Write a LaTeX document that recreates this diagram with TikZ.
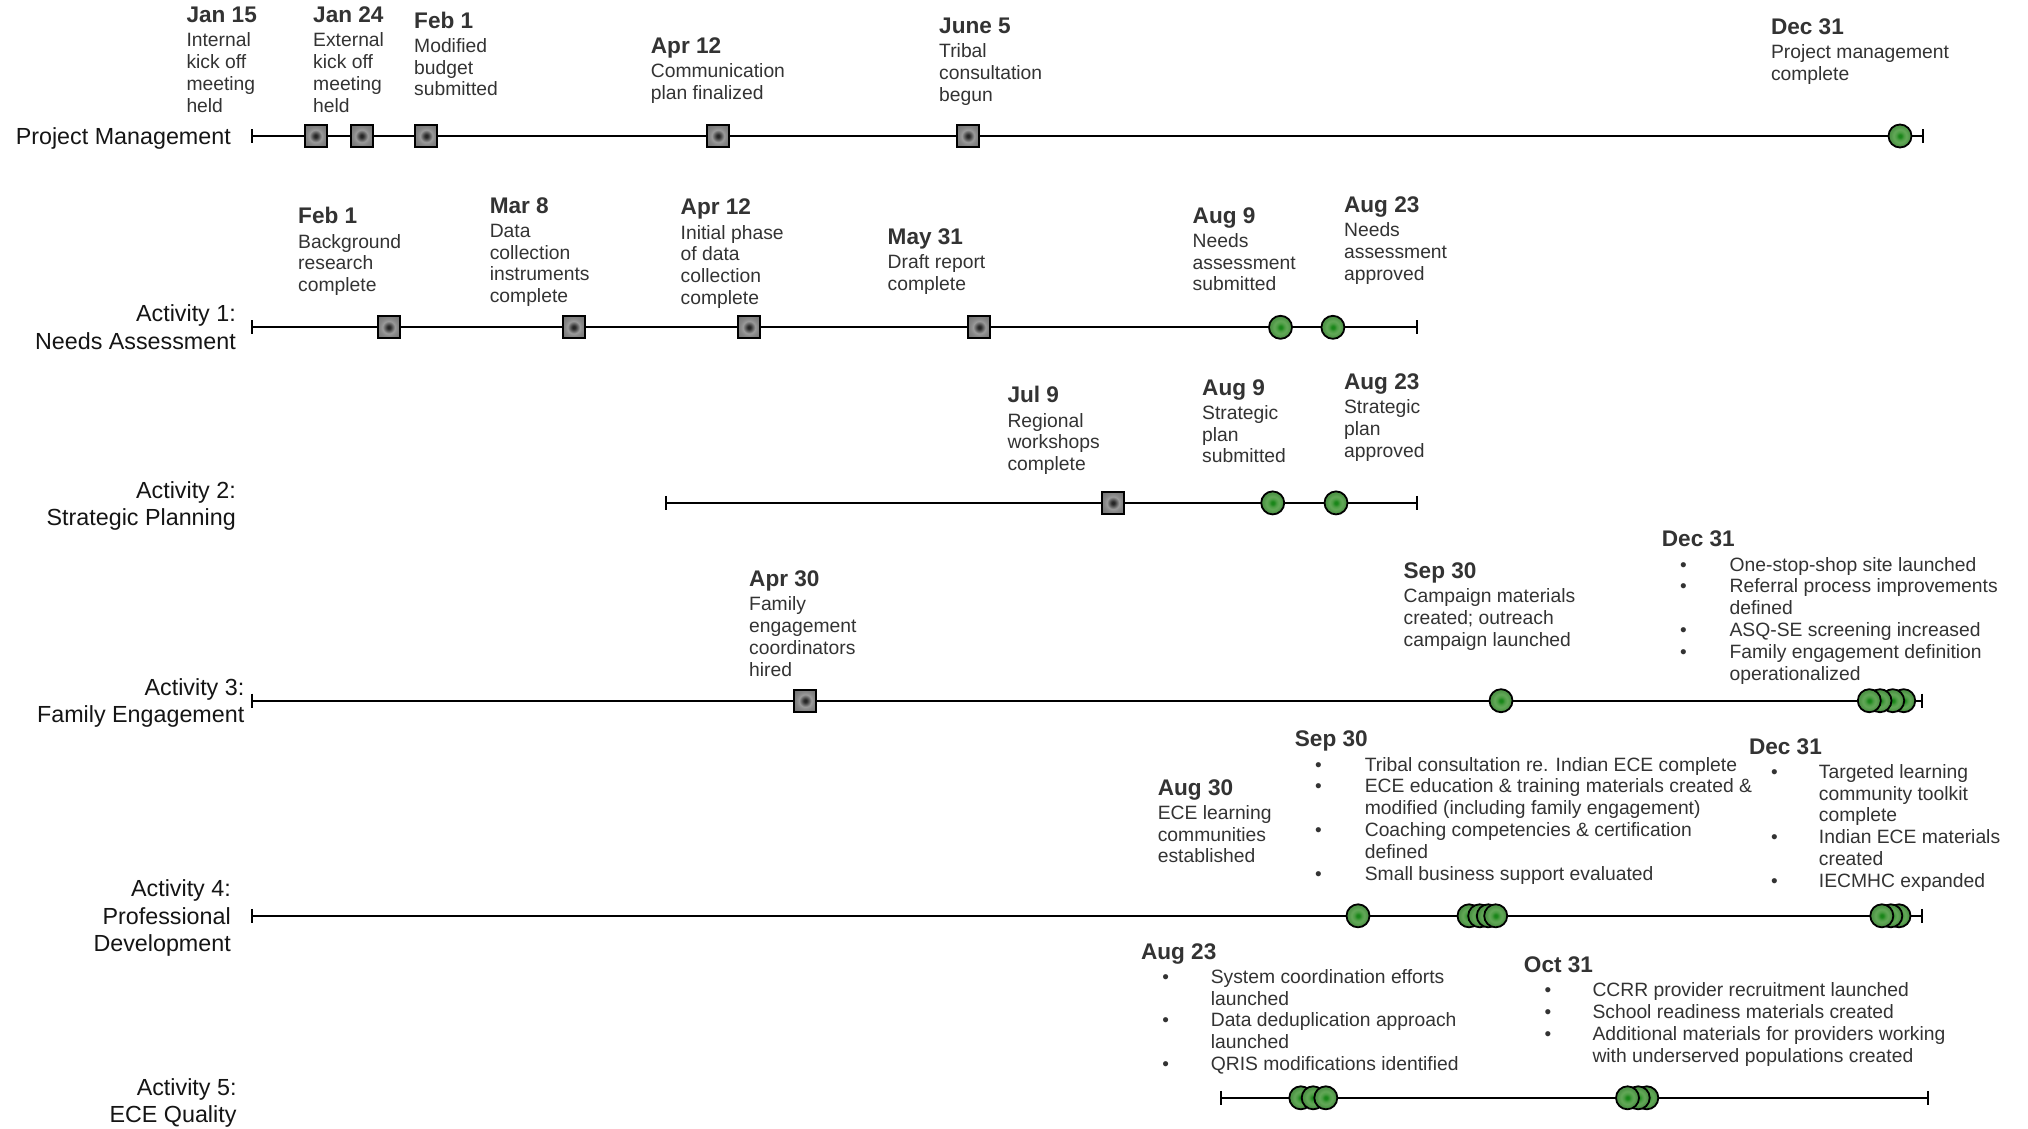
\documentclass[tikz,border=0pt]{standalone}
\usepackage{fontspec}
\setmainfont{Liberation Sans}
\definecolor{txt}{HTML}{333333}
\definecolor{lbl}{HTML}{151515}
\definecolor{gzero}{HTML}{1A861A}
\definecolor{gone}{HTML}{4A9C42}
\definecolor{gtwo}{HTML}{63A858}
\definecolor{gthree}{HTML}{4E9446}
\definecolor{szero}{HTML}{262626}
\definecolor{sone}{HTML}{5A5A5A}
\definecolor{stwo}{HTML}{9A9A9A}
\definecolor{sthree}{HTML}{858585}
\definecolor{sfour}{HTML}{6E6E6E}
\pgfdeclareradialshading{greenball}{\pgfpoint{0bp}{0bp}}{color(0bp)=(gzero); color(3bp)=(gzero); color(8bp)=(gone); color(14bp)=(gtwo); color(21bp)=(gthree); color(25bp)=(gthree); color(50bp)=(gthree)}
\pgfdeclareradialshading{graysq}{\pgfpoint{0bp}{0bp}}{color(0bp)=(szero); color(3bp)=(szero); color(8bp)=(sone); color(14bp)=(stwo); color(21bp)=(sthree); color(36bp)=(sfour); color(50bp)=(sfour)}
\tikzset{
  datetxt/.style={anchor=base west, inner sep=0pt, text=txt, font=\fontsize{22.6pt}{26pt}\selectfont\bfseries},
  desctxt/.style={anchor=base west, inner sep=0pt, text=txt, font=\fontsize{19.3pt}{21.8pt}\selectfont},
  bultxt/.style={anchor=base, inner sep=0pt, text=txt, font=\fontsize{19pt}{21pt}\selectfont},
  rowlbl/.style={anchor=base east, inner sep=0pt, text=lbl, font=\fontsize{23.3pt}{27pt}\selectfont},
  tline/.style={line width=2pt, black},
  tickmark/.style={line width=2.4pt, black},
  sqmark/.style={rectangle, minimum size=22pt, inner sep=0pt, draw=black, line width=1.8pt, shading=graysq},
  gmark/.style={circle, minimum size=23pt, inner sep=0pt, draw=black, line width=1.8pt, shading=greenball},
}
\newcommand\msblock[5]{%
  \node[datetxt] (#1) at (#2,#3) {#4};
  \foreach \ln [count=\i] in {#5} {
    \node[desctxt] (#1-\i) at ({#2},{#3+24.3+(\i-1)*21.8}) {\ln};
  }
}
\newcommand\msbullets[7]{%
  \node[datetxt] (#1) at (#2,#3) {#4};
  \foreach \f/\ln [count=\i] in {#7} {
    \node[desctxt] (#1-\i) at ({#6},{#3+24.3+(\i-1)*21.8}) {\ln};
    \ifnum\f=1 \node[bultxt] (#1-b\i) at ({#5},{#3+24.3+(\i-1)*21.8}) {\textbullet};\fi
  }
}
\newcommand\timeline[4]{% name, x start, x end, y
  \coordinate (#1S) at (#2,#4);
  \coordinate (#1E) at (#3,#4);
  \draw[tline] (#1S) -- (#1E);
  \draw[tickmark] ([yshift=7pt]#1S) -- ([yshift=-7pt]#1S);
  \draw[tickmark] ([yshift=7pt]#1E) -- ([yshift=-7pt]#1E);
}
\begin{document}
\begin{tikzpicture}[x=1pt,y=-1pt]
\useasboundingbox (0,0) rectangle (2028,1128);
\fill[white] (0,0) rectangle (2028,1128);

% ---------- row labels ----------
\node[rowlbl] (lpm) at (231,144) {Project Management};
\node[rowlbl] (la1) at (236,321.2) {Activity 1:};
\node[rowlbl] (la1b) at (236,349) {Needs Assessment};
\node[rowlbl] (la2) at (236,498.2) {Activity 2:};
\node[rowlbl] (la2b) at (236,525.7) {Strategic Planning};
\node[rowlbl] (la3) at (244.5,695.3) {Activity 3:};
\node[rowlbl] (la3b) at (244.5,722.3) {Family Engagement};
\node[rowlbl] (la4) at (231,896.7) {Activity 4:};
\node[rowlbl] (la4b) at (231,924.4) {Professional};
\node[rowlbl] (la4c) at (231,951.4) {Development};
\node[rowlbl] (la5) at (236.7,1095.3) {Activity 5:};
\node[rowlbl] (la5b) at (236.7,1122.3) {ECE Quality};

% ---------- timelines ----------
\timeline{pm}{252}{1923}{136}
\timeline{na}{252}{1417}{327.3}
\timeline{sp}{666.2}{1417}{502.9}
\timeline{fe}{252}{1922}{700.7}
\timeline{pd}{252}{1922}{915.8}
\timeline{eq}{1221}{1928}{1097.8}

% ---------- markers ----------
\node[sqmark] (pm1) at (315.6,136) {};
\node[sqmark] (pm2) at (361.6,136) {};
\node[sqmark] (pm3) at (426.3,136) {};
\node[sqmark] (pm4) at (718,136) {};
\node[sqmark] (pm5) at (968,136) {};
\node[gmark] (pm6) at (1900,136) {};

\node[sqmark] (na1) at (388.7,327.3) {};
\node[sqmark] (na2) at (573.7,327.3) {};
\node[sqmark] (na3) at (749,327.3) {};
\node[sqmark] (na4) at (979.3,327.3) {};
\node[gmark] (na5) at (1280.5,327.3) {};
\node[gmark] (na6) at (1332.9,327.3) {};

\node[sqmark] (sp1) at (1113,502.9) {};
\node[gmark] (sp2) at (1272.7,502.9) {};
\node[gmark] (sp3) at (1336,502.9) {};

\node[sqmark] (fe1) at (805.3,700.7) {};
\node[gmark] (fe2) at (1501,700.7) {};
\node[gmark] (fe3d) at (1903.7,700.7) {};
\node[gmark] (fe3c) at (1892.7,700.7) {};
\node[gmark] (fe3b) at (1880,700.7) {};
\node[gmark] (fe3a) at (1869.3,700.7) {};

\node[gmark] (pd1) at (1358,915.8) {};
\node[gmark] (pd2a) at (1469,915.8) {};
\node[gmark] (pd2b) at (1479.7,915.8) {};
\node[gmark] (pd2c) at (1488.3,915.8) {};
\node[gmark] (pd2d) at (1495.7,915.8) {};
\node[gmark] (pd3c) at (1899,915.8) {};
\node[gmark] (pd3b) at (1890.8,915.8) {};
\node[gmark] (pd3a) at (1881.8,915.8) {};

\node[gmark] (eq1a) at (1300.8,1097.8) {};
\node[gmark] (eq1b) at (1313.2,1097.8) {};
\node[gmark] (eq1c) at (1325.8,1097.8) {};
\node[gmark] (eq2c) at (1646.8,1097.8) {};
\node[gmark] (eq2b) at (1638.2,1097.8) {};
\node[gmark] (eq2a) at (1627.5,1097.8) {};

% ---------- Project management labels ----------
\msblock{tpm1}{186.3}{22.3}{Jan 15}{Internal,kick off,meeting,held}
\msblock{tpm2}{313}{22.3}{Jan 24}{External,kick off,meeting,held}
\msblock{tpm3}{414}{28}{Feb 1}{Modified,budget,submitted}
\msblock{tpm4}{650.7}{53.2}{Apr 12}{Communication,plan finalized}
\msblock{tpm5}{939}{33.1}{June 5}{Tribal,consultation,begun}
\msblock{tpm6}{1770.8}{34.2}{Dec 31}{Project management,complete}

% ---------- Activity 1 labels ----------
\msblock{tna1}{298}{223.7}{Feb 1}{Background,research,complete}
\msblock{tna2}{489.6}{213}{Mar 8}{Data,collection,instruments,complete}
\msblock{tna3}{680.5}{214.7}{Apr 12}{Initial phase,of data,collection,complete}
\msblock{tna4}{887.5}{244.6}{May 31}{Draft report,complete}
\msblock{tna5}{1192.5}{223}{Aug 9}{Needs,assessment,submitted}
\msblock{tna6}{1343.9}{212.2}{Aug 23}{Needs,assessment,approved}

% ---------- Activity 2 labels ----------
\msblock{tsp1}{1007.3}{402.7}{Jul 9}{Regional,workshops,complete}
\msblock{tsp2}{1202}{395}{Aug 9}{Strategic,plan,submitted}
\msblock{tsp3}{1343.9}{389.2}{Aug 23}{Strategic,plan,approved}

% ---------- Activity 3 labels ----------
\msblock{tfe1}{749}{586.3}{Apr 30}{Family,engagement,coordinators,hired}
\msblock{tfe2}{1403.4}{578.6}{Sep 30}{Campaign materials,created; outreach,campaign launched}
\msbullets{tfe3}{1661.7}{546.7}{Dec 31}{1683.5}{1729.4}{1/One-stop-shop site launched,1/Referral process improvements,0/defined,1/ASQ-SE screening increased,1/Family engagement definition,0/operationalized}

% ---------- Activity 4 labels ----------
\msblock{tpd1}{1157.6}{795}{Aug 30}{ECE learning,communities,established}
\msbullets{tpd2}{1294.7}{746.7}{Sep 30}{1318.5}{1364.6}{1/Tribal consultation re. Indian ECE complete,1/ECE education \& training materials created \&,0/modified (including family engagement),1/Coaching competencies \& certification,0/defined,1/Small business support evaluated}
\msbullets{tpd3}{1748.8}{754}{Dec 31}{1774.5}{1818.7}{1/Targeted learning,0/community toolkit,0/complete,1/Indian ECE materials,0/created,1/IECMHC expanded}

% ---------- Activity 5 labels ----------
\msbullets{teq1}{1140.8}{959}{Aug 23}{1165.8}{1210.6}{1/System coordination efforts,0/launched,1/Data deduplication approach,0/launched,1/QRIS modifications identified}
\msbullets{teq2}{1523.7}{972.3}{Oct 31}{1548}{1592.3}{1/CCRR provider recruitment launched,1/School readiness materials created,1/Additional materials for providers working,0/with underserved populations created}
\end{tikzpicture}
\end{document}
